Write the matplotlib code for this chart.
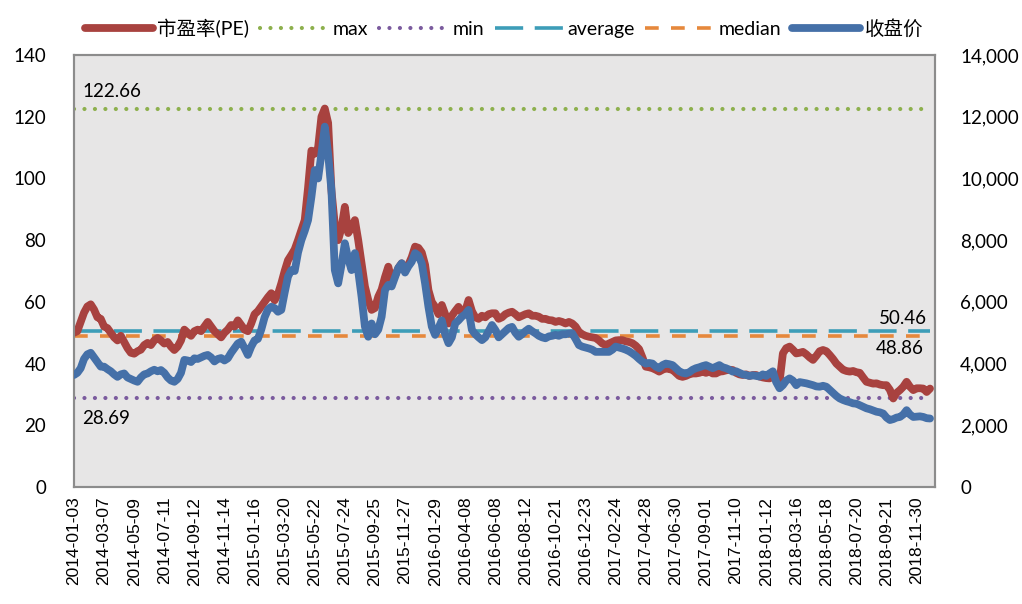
import matplotlib
matplotlib.use("Agg")
import matplotlib.pyplot as plt
import matplotlib.transforms as mtransforms
from matplotlib.ticker import FuncFormatter, MultipleLocator
from matplotlib.font_manager import FontProperties

# weekly PE and close, 2014-01-03 .. 2018-12-28 (257 trading weeks)
pe = [50.0, 50.5, 53.5, 56.5, 58.5, 59.2, 57.5, 55.0, 54.5, 52.0,
      51.5, 50.0, 48.5, 47.5, 49.0, 47.0, 45.0, 43.5, 43.2, 44.0,
      44.5, 46.0, 46.7, 46.0, 47.5, 48.3, 47.5, 46.5, 47.0, 45.5,
      44.4, 45.5, 47.5, 51.0, 50.0, 49.0, 50.5, 51.0, 50.5, 52.0,
      53.5, 52.0, 50.5, 49.5, 48.5, 50.0, 51.0, 52.5, 52.0, 54.0,
      52.5, 51.0, 50.5, 53.0, 56.0, 57.0, 58.5, 60.0, 61.5, 62.8,
      60.5, 62.5, 66.0, 70.0, 73.5, 75.2, 77.0, 80.0, 83.3, 86.5,
      97.0, 109.0, 108.0, 110.0, 120.0, 122.66, 118.0, 96.0, 85.0, 80.0,
      84.0, 90.8, 82.3, 84.0, 86.5, 80.0, 72.5, 65.0, 60.6, 57.4,
      58.0, 61.7, 64.0, 68.0, 71.4, 67.0, 68.5, 71.0, 72.5, 70.5,
      72.0, 74.5, 77.9, 77.5, 76.0, 72.0, 63.8, 60.0, 58.4, 56.0,
      59.0, 56.0, 53.0, 55.5, 57.0, 58.4, 56.5, 57.0, 60.6, 57.0,
      55.0, 54.5, 55.5, 55.0, 56.0, 56.3, 56.3, 54.5, 55.0, 56.0,
      56.5, 56.8, 56.0, 55.0, 55.5, 56.0, 56.3, 55.5, 55.5, 55.2,
      54.5, 54.5, 54.1, 54.0, 53.5, 53.8, 53.5, 53.0, 53.5, 53.0,
      52.0, 50.3, 49.5, 49.0, 48.7, 48.5, 48.3, 47.5, 46.5, 46.0,
      46.5, 47.0, 47.5, 47.6, 47.6, 47.2, 47.0, 46.6, 45.8, 44.7,
      42.0, 39.0, 38.8, 38.5, 38.0, 37.4, 38.0, 38.5, 38.2, 38.0,
      37.0, 36.0, 35.7, 36.0, 36.5, 36.8, 36.8, 37.0, 37.4, 37.0,
      37.4, 36.8, 36.8, 37.4, 37.5, 37.8, 38.0, 37.9, 37.0, 36.5,
      36.3, 36.5, 36.0, 36.3, 36.3, 35.8, 35.5, 35.3, 35.2, 36.0,
      34.5, 34.1, 43.3, 45.0, 45.5, 44.5, 43.3, 43.5, 43.8, 43.0,
      42.0, 41.2, 42.5, 44.0, 44.4, 44.0, 42.8, 41.5, 40.0, 39.0,
      38.0, 37.6, 37.4, 37.6, 37.2, 37.0, 35.5, 34.1, 33.8, 33.5,
      33.6, 33.2, 33.0, 33.0, 31.5, 28.69, 30.5, 31.4, 32.5, 34.1,
      32.5, 31.4, 32.0, 32.0, 31.9, 30.8, 31.9]

close = [3630, 3700, 3850, 4150, 4300, 4350, 4200, 4050, 3900, 3900,
         3820, 3750, 3650, 3570, 3650, 3680, 3550, 3500, 3450, 3410,
         3550, 3650, 3680, 3750, 3800, 3750, 3790, 3700, 3550, 3450,
         3410, 3500, 3700, 4120, 4100, 4050, 4170, 4150, 4200, 4250,
         4280, 4200, 4070, 4150, 4180, 4100, 4170, 4350, 4500, 4650,
         4710, 4500, 4280, 4550, 4750, 4800, 5100, 5500, 5750, 5840,
         5800, 5680, 5740, 6300, 6820, 7030, 7000, 7600, 8000, 8300,
         8650, 9400, 10270, 10000, 10800, 11680, 10800, 9600, 7030, 6600,
         7200, 7900, 7400, 7030, 7580, 7000, 6170, 5200, 4870, 5300,
         4950, 5100, 5520, 6380, 6550, 6500, 6800, 7100, 7250, 6950,
         7150, 7300, 7580, 7500, 7250, 6600, 5840, 5200, 4930, 5150,
         5400, 4950, 4660, 4850, 5300, 5400, 5520, 5600, 5740, 5090,
         4950, 4850, 4760, 4850, 5050, 5250, 5090, 4850, 4950, 5050,
         5150, 5190, 5000, 4870, 4950, 5050, 5130, 5050, 4980, 4900,
         4850, 4820, 4880, 4900, 4930, 4900, 4950, 4950, 4970, 4980,
         4800, 4600, 4550, 4520, 4490, 4450, 4380, 4380, 4380, 4380,
         4380, 4450, 4550, 4520, 4490, 4450, 4400, 4330, 4250, 4150,
         4060, 4000, 4020, 4000, 3900, 3850, 3950, 4000, 3980, 3950,
         3850, 3750, 3700, 3680, 3720, 3800, 3850, 3880, 3920, 3950,
         3900, 3850, 3900, 3950, 3880, 3850, 3800, 3740, 3750, 3700,
         3650, 3630, 3600, 3620, 3600, 3580, 3650, 3600, 3680, 3750,
         3400, 3200, 3300, 3450, 3520, 3450, 3300, 3400, 3380, 3360,
         3330, 3300, 3260, 3250, 3280, 3250, 3150, 3050, 2950, 2870,
         2820, 2780, 2750, 2710, 2700, 2650, 2600, 2550, 2520, 2480,
         2440, 2420, 2380, 2250, 2170, 2200, 2250, 2270, 2350, 2490,
         2350, 2270, 2280, 2290, 2270, 2230, 2220]

tick_labels = ['2014-01-03', '2014-03-07', '2014-05-09', '2014-07-11', '2014-09-12',
               '2014-11-14', '2015-01-16', '2015-03-20', '2015-05-22', '2015-07-24',
               '2015-09-25', '2015-11-27', '2016-01-29', '2016-04-08', '2016-06-08',
               '2016-08-12', '2016-10-21', '2016-12-23', '2017-02-24', '2017-04-28',
               '2017-06-30', '2017-09-01', '2017-11-10', '2018-01-12', '2018-03-16',
               '2018-05-18', '2018-07-20', '2018-09-21', '2018-11-30']
tick_step = 9

pe_max = 122.66
pe_min = 28.69
pe_avg = 50.46
pe_med = 48.86

n = len(pe)
x = list(range(n))

c_red = '#a8423f'
c_blue = '#4570a8'
c_green = '#8db04d'
c_purple = '#7b5b9e'
c_teal = '#3d9db8'
c_orange = '#e6883c'

dot = (0, (0.01, 2.5))
dash_avg = (0, (7.8, 3.2))
dash_med = (0, (3.8, 3.4))

fig = plt.figure(figsize=(10.22, 6.04), dpi=100)
ax = fig.add_axes([0.0724, 0.1937, 0.8425, 0.7152])
ax.set_facecolor('#e7e6e6')

ax.plot(x, pe, color=c_red, lw=5.6, solid_capstyle='round', solid_joinstyle='round', zorder=3)
ax.hlines(pe_max, 0, n - 1, color=c_green, lw=3, linestyles=dot, capstyle='round', zorder=2)
ax.hlines(pe_min, 0, n - 1, color=c_purple, lw=3, linestyles=dot, capstyle='round', zorder=2)
ax.hlines(pe_avg, 0, n - 1, color=c_teal, lw=2.6, linestyles=dash_avg, zorder=2)
ax.hlines(pe_med, 0, n - 1, color=c_orange, lw=2.6, linestyles=dash_med, zorder=2)

# legend proxies
h_red, = ax.plot([], [], color=c_red, lw=5.6, solid_capstyle='round', label='市盈率(PE)')
h_max, = ax.plot([], [], color=c_green, lw=3, ls=dot, dash_capstyle='round', label='max')
h_min, = ax.plot([], [], color=c_purple, lw=3, ls=dot, dash_capstyle='round', label='min')
h_avg, = ax.plot([], [], color=c_teal, lw=2.6, ls=dash_avg, label='average')
h_med, = ax.plot([], [], color=c_orange, lw=2.6, ls=dash_med, label='median')
h_blue, = ax.plot([], [], color=c_blue, lw=5.6, solid_capstyle='round', label='收盘价')

ax.text(2.5, pe_max + 5.6, f'{pe_max:.2f}', fontsize=13.5, family='Lato', va='center', ha='left')
ax.text(2.5, pe_min - 6.4, f'{pe_min:.2f}', fontsize=13.5, family='Lato', va='center', ha='left')
ax.text(n - 2, pe_avg + 4.3, f'{pe_avg:.2f}', fontsize=13.5, family='Lato', va='center', ha='right')
ax.text(n - 3, pe_med - 4.1, f'{pe_med:.2f}', fontsize=13.5, family='Lato', va='center', ha='right')

ax.set_xlim(0, n - 1 + 1.5)
ax.set_ylim(0, 140)
ax.yaxis.set_major_locator(MultipleLocator(20))
ax.set_xticks(range(0, n, tick_step)[:len(tick_labels)])
ax.set_xticklabels(tick_labels, rotation=90, fontsize=12.5, family='Liberation Sans')
off = mtransforms.ScaledTranslation(0.05, 0, fig.dpi_scale_trans)
for lab in ax.get_xticklabels():
    lab.set_transform(lab.get_transform() + off)
ax.tick_params(axis='x', length=0, pad=7)
ax.tick_params(axis='y', length=0, pad=20, labelsize=13.5)
for lab in ax.get_yticklabels():
    lab.set_family('Lato')
for s in ax.spines.values():
    s.set_color('#8c8c8c')
    s.set_linewidth(1.5)

ax2 = ax.twinx()
ax2.plot(x, close, color=c_blue, lw=5.6, solid_capstyle='round', solid_joinstyle='round', zorder=3)
ax2.set_ylim(0, 14000)
ax2.yaxis.set_major_locator(MultipleLocator(2000))
ax2.yaxis.set_major_formatter(FuncFormatter(lambda v, p: f'{int(v):,}'))
ax2.tick_params(axis='y', length=0, pad=18, labelsize=13.5)
for lab in ax2.get_yticklabels():
    lab.set_family('Lato')
for s in ax2.spines.values():
    s.set_color('#8c8c8c')
    s.set_linewidth(1.5)

leg = fig.legend(handles=[h_red, h_max, h_min, h_avg, h_med, h_blue],
                 loc='upper center', bbox_to_anchor=(0.493, 0.998), ncol=6, frameon=False,
                 prop=FontProperties(family=['Lato', 'Noto Sans CJK SC'], size=14),
                 handlelength=3.5, handletextpad=0.25, columnspacing=0.55)

fig.savefig('out.png', dpi=100)
